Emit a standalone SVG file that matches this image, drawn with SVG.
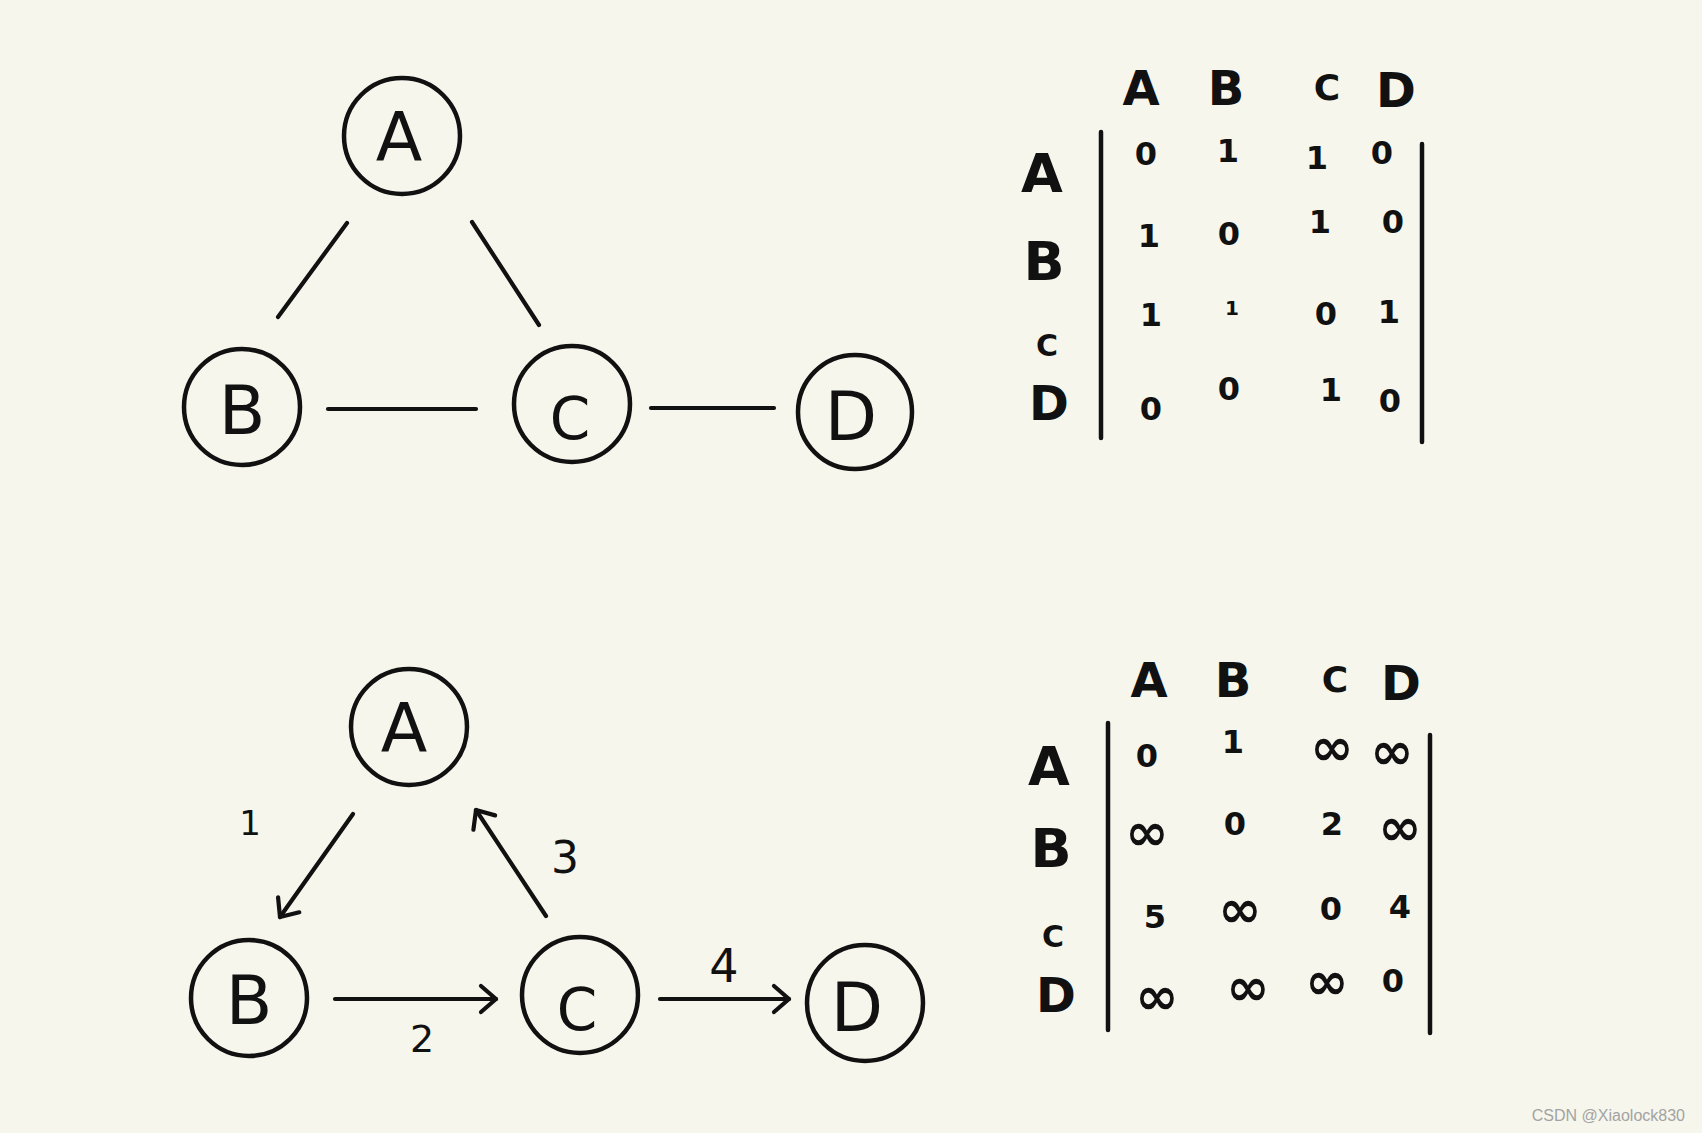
<svg xmlns="http://www.w3.org/2000/svg" width="1702" height="1133" viewBox="0 0 1702 1133">
<style>
.bg{fill:#f6f6ec}
.node{fill:none;stroke:#111;stroke-width:4.5}
.lbl{font-family:"DejaVu Sans",sans-serif;font-size:68px;fill:#111;text-anchor:middle}
.edge{stroke:#111;stroke-width:4.2;stroke-linecap:round;fill:none}
.arrow{stroke:#111;stroke-width:4.2;stroke-linecap:round;fill:none;marker-end:url(#chev)}
.elbl{font-family:"DejaVu Sans",sans-serif;fill:#111;text-anchor:middle}
.hdr{font-family:"DejaVu Sans",sans-serif;font-size:48px;font-weight:bold;fill:#111;text-anchor:middle}
.cell{font-family:"DejaVu Sans",sans-serif;font-size:32px;font-weight:bold;fill:#111;text-anchor:middle}
.inf{font-family:"DejaVu Sans",sans-serif;font-size:52px;font-weight:bold;fill:#111;text-anchor:middle}
.bar{stroke:#111;stroke-width:4.5;stroke-linecap:round}
.wm{font-family:"Liberation Sans",Arial,sans-serif;font-size:16px;fill:#a3a3a3;text-anchor:end}
</style>
<defs>
<marker id="chev" markerUnits="userSpaceOnUse" viewBox="-20 -20 40 40" markerWidth="40" markerHeight="40" refX="0" refY="0" orient="auto" overflow="visible">
<path d="M-15,-13 L0,0 L-15,13" fill="none" stroke="#111" stroke-width="4.2" stroke-linecap="round" stroke-linejoin="round"/>
</marker>
</defs>
<rect class="bg" x="0" y="0" width="1702" height="1133"/>

<!-- Top undirected graph -->
<g id="connectors-top">
<line class="edge" x1="347" y1="223" x2="278" y2="317"/>
<line class="edge" x1="472" y1="222" x2="539" y2="325"/>
<line class="edge" x1="328" y1="409" x2="476" y2="409"/>
<line class="edge" x1="651" y1="408" x2="774" y2="408"/>
</g>
<g id="top-A"><circle class="node" cx="402" cy="136" r="58"/><text class="lbl" x="399" y="161">A</text></g>
<g id="top-B"><circle class="node" cx="242" cy="407" r="58"/><text class="lbl" x="242" y="434">B</text></g>
<g id="top-C"><circle class="node" cx="572" cy="404" r="58"/><text class="lbl" x="570" y="439" style="font-size:58px">C</text></g>
<g id="top-D"><circle class="node" cx="855" cy="412" r="57"/><text class="lbl" x="851" y="440">D</text></g>

<!-- Top matrix -->
<g id="matrix-top">
<text class="hdr" x="1141" y="105">A</text>
<text class="hdr" x="1226" y="105">B</text>
<text class="hdr" x="1327" y="100" style="font-size:36px">C</text>
<text class="hdr" x="1396" y="107">D</text>
<text class="hdr" x="1042" y="192" style="font-size:54px">A</text>
<text class="hdr" x="1044" y="280" style="font-size:54px">B</text>
<text class="hdr" x="1047" y="356" style="font-size:30px">C</text>
<text class="hdr" x="1049" y="420">D</text>
<line class="bar" x1="1101" y1="132" x2="1101" y2="438"/>
<line class="bar" x1="1422" y1="144" x2="1422" y2="442"/>
<text class="cell" x="1146" y="165">0</text>
<text class="cell" x="1228" y="162">1</text>
<text class="cell" x="1317" y="169">1</text>
<text class="cell" x="1382" y="164">0</text>
<text class="cell" x="1149" y="247">1</text>
<text class="cell" x="1229" y="245">0</text>
<text class="cell" x="1320" y="233">1</text>
<text class="cell" x="1393" y="233">0</text>
<text class="cell" x="1151" y="326">1</text>
<text class="cell" x="1232" y="315" style="font-size:20px">1</text>
<text class="cell" x="1326" y="325">0</text>
<text class="cell" x="1389" y="323">1</text>
<text class="cell" x="1151" y="420">0</text>
<text class="cell" x="1229" y="400">0</text>
<text class="cell" x="1331" y="401">1</text>
<text class="cell" x="1390" y="412">0</text>
</g>

<!-- Bottom directed weighted graph -->
<g id="connectors-bottom">
<line class="arrow" x1="353" y1="814" x2="280" y2="917"/>
<line class="arrow" x1="546" y1="916" x2="476" y2="810"/>
<line class="arrow" x1="335" y1="999" x2="496" y2="999"/>
<line class="arrow" x1="660" y1="999" x2="789" y2="999"/>
<text class="elbl" x="250" y="835" style="font-size:34px">1</text>
<text class="elbl" x="565" y="873" style="font-size:44px">3</text>
<text class="elbl" x="422" y="1052" style="font-size:38px">2</text>
<text class="elbl" x="724" y="982" style="font-size:46px">4</text>
</g>
<g id="bot-A"><circle class="node" cx="409" cy="727" r="58"/><text class="lbl" x="404" y="752">A</text></g>
<g id="bot-B"><circle class="node" cx="249" cy="998" r="58"/><text class="lbl" x="249" y="1024">B</text></g>
<g id="bot-C"><circle class="node" cx="580" cy="995" r="58"/><text class="lbl" x="577" y="1030" style="font-size:58px">C</text></g>
<g id="bot-D"><circle class="node" cx="865" cy="1003" r="58"/><text class="lbl" x="857" y="1031">D</text></g>

<!-- Bottom matrix -->
<g id="matrix-bottom">
<text class="hdr" x="1149" y="697">A</text>
<text class="hdr" x="1233" y="697">B</text>
<text class="hdr" x="1335" y="692" style="font-size:36px">C</text>
<text class="hdr" x="1401" y="700">D</text>
<text class="hdr" x="1049" y="785" style="font-size:54px">A</text>
<text class="hdr" x="1051" y="867" style="font-size:54px">B</text>
<text class="hdr" x="1053" y="947" style="font-size:30px">C</text>
<text class="hdr" x="1056" y="1012">D</text>
<line class="bar" x1="1108" y1="723" x2="1108" y2="1030"/>
<line class="bar" x1="1430" y1="735" x2="1430" y2="1033"/>
<text class="cell" x="1147" y="767">0</text>
<text class="cell" x="1233" y="753">1</text>
<text class="inf" x="1332" y="765">∞</text>
<text class="inf" x="1392" y="769">∞</text>
<text class="inf" x="1147" y="850">∞</text>
<text class="cell" x="1235" y="835">0</text>
<text class="cell" x="1332" y="835">2</text>
<text class="inf" x="1400" y="845">∞</text>
<text class="cell" x="1155" y="928">5</text>
<text class="inf" x="1240" y="927">∞</text>
<text class="cell" x="1331" y="920">0</text>
<text class="cell" x="1400" y="918">4</text>
<text class="inf" x="1157" y="1014">∞</text>
<text class="inf" x="1248" y="1005">∞</text>
<text class="inf" x="1327" y="999">∞</text>
<text class="cell" x="1393" y="992">0</text>
</g>

<text class="wm" x="1685" y="1121">CSDN @Xiaolock830</text>
</svg>
